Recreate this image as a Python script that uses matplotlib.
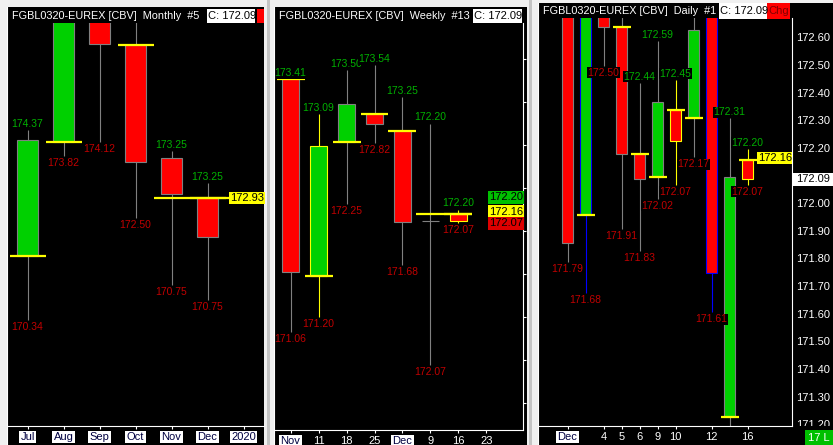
import numpy as np
import matplotlib
matplotlib.use("Agg")
import matplotlib.pyplot as plt
from matplotlib.patches import Rectangle
from matplotlib.lines import Line2D

#### chart data
# monthly
m_ticks = ['Jul', 'Aug', 'Sep', 'Oct', 'Nov', 'Dec', '2020']
m_open = [171.70, 174.12, 177.20, 176.19, 173.78, 172.93]
m_high = [174.37, 177.60, 177.60, 177.40, 173.93, 173.25]
m_low = [170.34, 173.82, 174.12, 172.50, 171.08, 170.75]
m_close = [174.16, 177.00, 176.21, 173.70, 173.02, 172.09]
m_hi_txt = ['174.37', '', '', '', '173.25', '173.25']
m_lo_txt = ['170.34', '173.82', '174.12', '172.50', '170.75', '170.75']
m_mark = [True, True, True, True, False, True]
m_last = 172.93

# weekly
w_ticks = ['Nov', '11', '18', '25', 'Dec', '9', '16', '23']
w_open = [173.41, 171.58, 172.83, 173.09, 172.93, 172.09, 172.16]
w_high = [173.41, 173.09, 173.50, 173.54, 173.25, 173.00, 172.20]
w_low = [171.06, 171.20, 172.25, 172.82, 171.68, 170.75, 172.07]
w_close = [171.62, 172.79, 173.18, 173.00, 172.08, 172.09, 172.09]
w_hi_txt = ['173.41', '173.09', '173.50', '173.54', '173.25', '172.20', '172.20']
w_lo_txt = ['171.06', '171.20', '172.25', '172.82', '171.68', '172.07', '172.07']
w_mark = [True, True, True, True, True, False, True]
w_levels = ['172.20', '172.16', '172.07']

# daily
d_days = ['Dec', '3', '4', '5', '6', '9', '10', '11', '12', '13', '16']
d_shown = ['Dec', '4', '5', '6', '9', '10', '12', '16']
d_open = [172.80, 171.96, 172.80, 172.64, 172.18, 172.10, 172.34, 172.31, 172.80, 171.23, 172.16]
d_high = [172.85, 172.85, 172.85, 172.80, 172.44, 172.59, 172.45, 172.80, 172.85, 172.31, 172.20]
d_low = [171.79, 171.68, 172.50, 171.91, 171.83, 172.02, 172.07, 172.17, 171.61, 171.15, 172.07]
d_close = [171.86, 172.80, 172.64, 172.18, 172.09, 172.37, 172.23, 172.63, 171.75, 172.10, 172.09]
d_hi_txt = ['', '', '', '', '172.44', '172.59', '172.45', '', '', '172.31', '172.20']
d_lo_txt = ['171.79', '171.68', '172.50', '171.91', '171.83', '172.02', '172.07', '172.17', '171.61', '', '172.07']
d_mark = [True] * 11
d_axis = [171.2, 171.3, 171.4, 171.5, 171.6, 171.7, 171.8, 171.9, 172.0,
          172.2, 172.3, 172.4, 172.5, 172.6]
d_last = 172.16
d_close_now = 172.09

#### styles
GREEN = '#00d000'
RED = '#ff0000'
GRAY = '#808080'
BLUE = '#0000ff'
YELLOW = '#ffff00'
GREEN_TXT = '#00b000'
RED_TXT = '#c00000'
NAVY = '#000040'
FONT = 'Liberation Sans'
SMALL = ['Liberation Sans Narrow', 'Liberation Sans']
TITLE_SIZE = 7.8

m_edge = [GRAY] * 6
w_edge = [GRAY, YELLOW, GRAY, GRAY, GRAY, GRAY, YELLOW]
d_edge = [GRAY, BLUE, GRAY, GRAY, GRAY, GRAY, YELLOW, GRAY, BLUE, GRAY, YELLOW]

plt.rcParams['font.family'] = [FONT, 'DejaVu Sans']

W, H = 833, 445
fig = plt.figure(figsize=(W / 100, H / 100), dpi=100)
fig.patch.set_facecolor('#f0f0f0')


def frac(x0, y0, x1, y1):
    return [x0 / W, 1 - y1 / H, (x1 - x0) / W, (y1 - y0) / H]


def fig_rect(x0, y0, x1, y1, color, z=-1):
    fig.add_artist(Rectangle((x0 / W, 1 - y1 / H), (x1 - x0) / W, (y1 - y0) / H,
                             transform=fig.transFigure, facecolor=color,
                             edgecolor='none', zorder=z))


def fig_text(x, y, s, size=8, **kw):
    fig.text(x / W, 1 - y / H, s, fontsize=size, va='center', zorder=6, **kw)


def vline(x, y0, y1, color='white'):
    fig.add_artist(Line2D([x / W, x / W], [1 - y0 / H, 1 - y1 / H],
                          transform=fig.transFigure, color=color, lw=0.8, zorder=5))


def ylims(ref_px, ref_price, ppu, top_px, bot_px):
    return ref_price - (bot_px - ref_px) / ppu, ref_price + (ref_px - top_px) / ppu


def make_axes(box, xlim, ylim):
    ax = fig.add_axes(frac(*box))
    ax.set_facecolor('black')
    ax.set_xlim(*xlim)
    ax.set_ylim(*ylim)
    for s in ax.spines.values():
        s.set_visible(False)
    ax.spines['bottom'].set_visible(True)
    ax.spines['bottom'].set_color('white')
    ax.spines['bottom'].set_linewidth(0.8)
    ax.set_yticks([])
    ax.tick_params(axis='x', colors='white', length=2.2, width=0.8, pad=2.2, labelsize=8)
    return ax


def set_ticks(ax, pos, labels, boxed):
    ax.set_xticks(pos, labels)
    for t in ax.get_xticklabels():
        if t.get_text() in boxed:
            t.set_color(NAVY)
            t.set_bbox(dict(facecolor='white', edgecolor='none', pad=1.0))
        else:
            t.set_color('white')


def draw_candles(ax, o, h, l, c, width, edge, marks, hi_txt, lo_txt):
    for i in range(len(o)):
        ec = edge[i]
        ax.vlines(i, l[i], h[i], color=ec, lw=0.8, zorder=1)
        if o[i] == c[i]:
            ax.hlines(o[i], i - width / 2, i + width / 2, color=ec, lw=0.8, zorder=2)
        else:
            fc = GREEN if c[i] > o[i] else RED
            ax.bar(i, abs(c[i] - o[i]), width, bottom=min(o[i], c[i]), color=fc,
                   edgecolor=ec, linewidth=0.8, zorder=2)
        if marks[i]:
            ax.hlines(o[i], i - 0.5, i + 0.5, color=YELLOW, lw=1.6, zorder=3)
        for txt, val, dy, col in ((hi_txt[i], h[i], 6, GREEN_TXT), (lo_txt[i], l[i], -7, RED_TXT)):
            if txt:
                ax.annotate(txt, (i, val), xytext=(0, dy), textcoords='offset pixels',
                            ha='center', va='center', color=col, fontsize=7.5,
                            family=SMALL, zorder=5, clip_on=True,
                            bbox=dict(facecolor='black', edgecolor='none', pad=0.4))


#### backgrounds
fig_rect(7, 7, 264, 445, 'black')
fig_rect(274, 7, 527, 445, 'black')
fig_rect(538, 3, 833, 445, 'black')
fig_rect(267, 0, 270, 445, '#c4c4c4', z=-2)
fig_rect(529, 0, 532, 445, '#c4c4c4', z=-2)
vline(6.5, 7, 445)
vline(273.5, 7, 445)
vline(537.5, 3, 445)

#### monthly panel
ax1 = make_axes((7, 22.7, 264, 426), ((7 - 27.5) / 36, (264 - 27.5) / 36),
                ylims(198, m_last, 47, 22.7, 426))
draw_candles(ax1, m_open, m_high, m_low, m_close, 0.61, m_edge, m_mark, m_hi_txt, m_lo_txt)
n = len(m_open) - 1
ax1.hlines(m_last, n - 1.5, ax1.get_xlim()[1], color=YELLOW, lw=1.6, zorder=3)
ax1.annotate(f'{m_last:.2f}', (1, m_last), xycoords=('axes fraction', 'data'),
             ha='right', va='center', fontsize=8, color='black', zorder=6,
             bbox=dict(boxstyle='square,pad=0.12', facecolor=YELLOW, edgecolor='none'))
set_ticks(ax1, range(len(m_ticks)), m_ticks, m_ticks)

fig_text(12, 16, 'FGBL0320-EUREX [CBV]  Monthly  #5', size=TITLE_SIZE, color='white')
fig_rect(207, 9, 255, 23, 'white', z=5)
fig_text(208, 16, f'C: {d_close_now:.2f}', color='black')
fig_rect(257, 9, 264, 23, RED, z=5)

#### weekly panel
ax2 = make_axes((274, 22.7, 523, 430), ((274 - 290.5) / 28, (523 - 290.5) / 28),
                ylims(59, 173.6, 107.5, 22.7, 430))
draw_candles(ax2, w_open, w_high, w_low, w_close, 0.6, w_edge, w_mark, w_hi_txt, w_lo_txt)
n = len(w_open) - 1
ax2.hlines(w_open[n], n - 1.5, n + 0.5, color=YELLOW, lw=1.6, zorder=3)
ax2.spines['right'].set_visible(True)
ax2.spines['right'].set_color('white')
ax2.spines['right'].set_linewidth(0.8)
ax2.yaxis.tick_right()
ax2.set_yticks(np.arange(170.4, 173.61, 0.4))
ax2.set_yticklabels([])
ax2.tick_params(axis='y', colors='white', length=2.2, width=0.8, direction='out')
for txt, fc, dy in zip(w_levels, ['#00c000', YELLOW, '#dd0000'], [12, 2, 0]):
    ax2.annotate(txt, (1, float(txt)), xycoords=('axes fraction', 'data'),
                 xytext=(0, dy), textcoords='offset pixels',
                 ha='right', va='center', fontsize=8, color='black', zorder=6,
                 bbox=dict(boxstyle='square,pad=0.12', facecolor=fc, edgecolor='none'))
set_ticks(ax2, range(len(w_ticks)), w_ticks, ['Nov', 'Dec'])

fig_text(279, 16, 'FGBL0320-EUREX [CBV]  Weekly  #13', size=TITLE_SIZE, color='white')
fig_rect(473, 9, 522, 23, 'white', z=5)
fig_text(474, 16, f'C: {d_close_now:.2f}', color='black')

#### daily panel
d_ppu = 276.5
d_ylim = ylims(38.3, 172.60, d_ppu, 18.3, 426)
ax3 = make_axes((538, 18.3, 792, 426), ((538 - 567.5) / 18, (792 - 567.5) / 18), d_ylim)
draw_candles(ax3, d_open, d_high, d_low, d_close, 0.56, d_edge, d_mark, d_hi_txt, d_lo_txt)
ax3.annotate(f'{d_last:.2f}', (1, d_last), xycoords=('axes fraction', 'data'),
             xytext=(0, 2), textcoords='offset pixels',
             ha='right', va='center', fontsize=8, color='black', zorder=6,
             bbox=dict(boxstyle='square,pad=0.12', facecolor=YELLOW, edgecolor='none'))
set_ticks(ax3, [d_days.index(d) for d in d_shown], d_shown, ['Dec'])

ax3r = fig.add_axes(frac(792, 18.3, 833, 426))
ax3r.set_facecolor('black')
ax3r.set_xlim(0, 1)
ax3r.set_ylim(*d_ylim)
for s in ax3r.spines.values():
    s.set_visible(False)
ax3r.spines['left'].set_visible(True)
ax3r.spines['left'].set_color('white')
ax3r.spines['left'].set_linewidth(0.8)
ax3r.set_xticks([])
ax3r.set_yticks([])
for v in d_axis:
    ax3r.text(0.09, v, f'{v:.2f}', color='white', fontsize=8, va='center', clip_on=True)
hh = 6.7 / d_ppu
ax3r.add_patch(Rectangle((0.02, d_close_now - hh), 0.98, 2 * hh, facecolor='white',
                         edgecolor='none', transform=ax3r.get_yaxis_transform(), zorder=4))
ax3r.text(0.09, d_close_now, f'{d_close_now:.2f}', color='black', fontsize=8,
          va='center', zorder=5)

fig_text(543, 11, 'FGBL0320-EUREX [CBV]  Daily  #1', size=TITLE_SIZE, color='white')
fig_rect(719, 3, 767, 19, 'white', z=5)
fig_text(720, 11, f'C: {d_close_now:.2f}', color='black')
fig_rect(767, 3, 790, 19, RED, z=5)
fig_text(768, 11, 'Chg', color='#800000')
fig_rect(805, 430, 833, 445, '#00c000', z=5)
fig_text(808, 438, '17 L', color='white')

fig.savefig('out.png', dpi=100, facecolor=fig.get_facecolor())
